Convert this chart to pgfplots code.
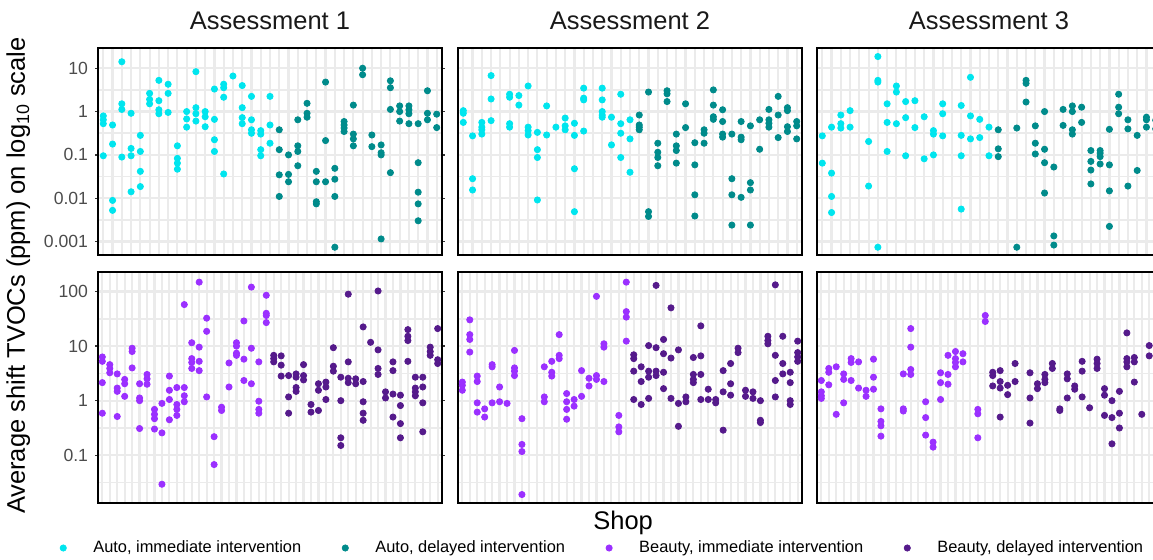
\documentclass[border=0pt]{standalone}
\usepackage{fontspec}
\setmainfont{Liberation Sans}
\usepackage{pgfplots}
\pgfplotsset{compat=1.18}
\definecolor{cA}{HTML}{00E5EE}
\definecolor{cB}{HTML}{008B8B}
\definecolor{cC}{HTML}{9B30FF}
\definecolor{cD}{HTML}{551A8B}
\pgfplotsset{
  every axis/.append style={
    scale only axis, width=171.7pt, anchor=north west,
    xmajorgrids, ymajorgrids, yminorgrids,
    major grid style={black!8, line width=1.1pt},
    minor grid style={black!8, line width=0.75pt},
    axis line style={line width=1.1pt, black},
    xticklabels={},
    tick align=outside,
    major tick length=1.6pt, minor tick length=0pt,
    xtick style={draw=none},
    ytick style={black!80, line width=0.6pt},
    tick label style={font=\fontsize{8.8}{10}\selectfont, text=black!70},
    title style={at={(0.5,1)}, anchor=base, yshift=3.2pt, font=\fontsize{12.75}{15}\selectfont, text=black!90},
  },
  every axis plot/.append style={only marks, mark=*, mark size=1.55pt, mark options={line width=0.4pt}},
}
\begin{document}
\begin{tikzpicture}
% ---------------- top row ----------------
\begin{axis}[ymode=log, height=103.35pt, xmin=0.46, xmax=37.54, xtick={1,...,37},
    ymin=0.00049, ymax=28.8, ytick={0.001,0.01,0.1,1,10},
    minor ytick={0.00316,0.0316,0.316,3.16},
  at={(49.15pt,-24.15pt)}, title={Assessment 1},
  yticklabels={0.001,0.01,0.1,1,10}]
\addplot[cA] coordinates {
(1,0.794)(1,0.646)(1,0.525)(1,0.0955)
(2,0.49)(2,0.178)(2,0.00891)(2,0.00525)
(3,14.1)(3,1.51)(3,1.12)(3,0.0891)
(4,0.912)(4,0.141)(4,0.0955)(4,0.0141)
(5,0.282)(5,0.12)(5,0.0417)(5,0.0186)
(6,2.63)(6,1.91)(6,1.51)
(7,5.25)(7,1.78)(7,1.1)(7,0.891)
(8,4.27)(8,2.63)(8,0.955)
(9,0.162)(9,0.0832)(9,0.0646)(9,0.0468)
(10,1.0)(10,0.676)(10,0.437)
(11,8.32)(11,1.23)(11,0.891)(11,0.603)
(12,1.0)(12,0.759)(12,0.447)
(13,3.31)(13,0.661)(13,0.224)(13,0.12)
(14,4.27)(14,3.55)(14,2.14)(14,0.0363)
(15,6.61)
(16,3.98)(16,1.23)(16,0.724)(16,0.525)
(17,2.24)(17,0.646)(17,0.38)(17,0.316)
(18,0.363)(18,0.302)(18,0.132)(18,0.0955)
(19,2.24)(19,0.49)(19,0.186)
};
\addplot[cB] coordinates {
(20,0.38)(20,0.132)(20,0.0347)(20,0.011)
(21,0.1)(21,0.0355)(21,0.024)
(22,0.646)(22,0.162)(22,0.12)(22,0.0562)
(23,1.55)(23,0.912)(23,0.741)
(24,0.0417)(24,0.024)(24,0.00832)(24,0.00741)
(25,4.79)(25,0.214)(25,0.024)
(26,0.049)(26,0.0275)(26,0.011)(26,0.000741)
(27,0.589)(27,0.49)(27,0.417)(27,0.347)
(28,1.41)(28,0.302)(28,0.234)(28,0.162)
(29,10)(29,7.08)
(30,0.288)(30,0.155)
(31,0.17)(31,0.112)(31,0.1)(31,0.00115)
(32,5.13)(32,3.55)(32,1.12)(32,0.0389)
(33,1.35)(33,1.0)(33,0.603)
(34,1.35)(34,1.1)(34,0.891)(34,0.525)
(35,0.525)(35,0.0661)(35,0.0138)(35,0.00741)(35,0.00302)
(36,3.02)(36,0.912)(36,0.646)
(37,0.871)(37,0.427)
};
\end{axis}
\begin{axis}[ymode=log, height=103.35pt, xmin=0.46, xmax=37.54, xtick={1,...,37},
    ymin=0.00049, ymax=28.8, ytick={0.001,0.01,0.1,1,10},
    minor ytick={0.00316,0.0316,0.316,3.16},
  yticklabels={}, major tick length=0pt,
  at={(229.15pt,-24.15pt)}, title={Assessment 2}]
\addplot[cA] coordinates {
(1,1.05)(1,0.912)(1,0.562)
(2,0.275)(2,0.0282)(2,0.0155)
(3,0.562)(3,0.437)(3,0.38)(3,0.302)
(4,6.76)(4,1.95)(4,0.617)
(6,2.51)(6,2.14)(6,0.525)(6,0.437)
(7,2.34)(7,1.41)
(8,3.89)(8,0.437)(8,0.363)(8,0.288)
(9,0.331)(9,0.132)(9,0.0871)(9,0.00912)
(10,1.35)(10,0.288)
(11,0.437)
(12,0.708)(12,0.468)(12,0.38)
(13,0.537)(13,0.282)(13,0.0479)(13,0.0049)
(14,3.47)(14,2.04)(14,1.86)(14,0.355)
(16,3.47)(16,1.86)(16,1.0)(16,0.832)(16,0.741)
(17,0.741)(17,0.17)
(18,2.51)(18,0.525)(18,0.316)(18,0.0871)
(19,0.646)(19,0.234)(19,0.0398)
};
\addplot[cB] coordinates {
(20,0.832)(20,0.49)(20,0.437)(20,0.38)
(21,2.82)(21,0.0049)(21,0.0038)
(22,0.186)(22,0.115)(22,0.0871)(22,0.0562)
(23,3.02)(23,2.57)(23,1.7)
(24,0.302)(24,0.162)(24,0.126)(24,0.0646)
(25,1.51)(25,0.427)
(26,0.191)(26,0.0589)(26,0.012)(26,0.00389)
(27,0.38)(27,0.316)(27,0.186)
(28,3.16)(28,1.41)(28,0.759)(28,0.661)
(29,1.1)(29,0.589)(29,0.302)(29,0.257)
(30,0.302)(30,0.0282)(30,0.012)(30,0.0024)
(31,0.589)(31,0.257)(31,0.224)(31,0.0105)
(32,0.468)(32,0.0229)(32,0.0155)(32,0.0024)
(33,0.646)(33,0.135)
(34,1.12)(34,0.646)(34,0.537)(34,0.437)
(35,2.24)(35,0.832)(35,0.251)
(36,1.23)(36,1.05)(36,0.447)(36,0.347)
(37,0.589)(37,0.468)(37,0.234)
};
\end{axis}
\begin{axis}[ymode=log, height=103.35pt, xmin=0.46, xmax=37.54, xtick={1,...,37},
    ymin=0.00049, ymax=28.8, ytick={0.001,0.01,0.1,1,10},
    minor ytick={0.00316,0.0316,0.316,3.16},
  yticklabels={}, major tick length=0pt,
  at={(408.65pt,-24.15pt)}, title={Assessment 3}]
\addplot[cA] coordinates {
(1,0.275)(1,0.0646)
(2,0.437)(2,0.038)(2,0.011)(2,0.00468)
(3,0.832)(3,0.525)(3,0.417)
(4,1.05)(4,0.437)
(6,0.204)(6,0.0191)
(7,18.6)(7,5.25)(7,4.79)(7,0.000741)
(8,1.51)(8,0.562)(8,0.12)
(9,3.89)(9,2.82)(9,0.525)
(10,1.7)(10,0.724)(10,0.0955)
(11,1.78)(11,0.427)
(12,0.759)(12,0.0813)
(13,0.363)(13,0.302)(13,0.1)
(14,1.51)(14,0.891)(14,0.275)
(16,1.38)(16,0.282)(16,0.0955)(16,0.00562)
(17,6.17)(17,0.794)(17,0.234)
(18,0.661)(18,0.251)
(19,0.437)(19,0.0955)
};
\addplot[cB] coordinates {
(20,0.38)(20,0.138)(20,0.0912)
(22,0.417)(22,0.000741)
(23,5.25)(23,4.47)(23,1.66)
(24,0.468)(24,0.186)(24,0.105)
(25,1.0)(25,0.135)(25,0.0661)(25,0.0132)
(26,0.0525)(26,0.00135)(26,0.000832)
(27,1.12)(27,0.479)
(28,1.35)(28,1.0)(28,0.38)(28,0.302)
(29,1.26)(29,0.562)
(30,0.126)(30,0.0708)(30,0.0447)(30,0.0214)
(31,0.126)(31,0.11)(31,0.0912)(31,0.0617)
(32,0.389)(32,0.0589)(32,0.0148)(32,0.00224)
(33,2.51)(33,1.26)(33,0.891)
(34,0.646)(34,0.398)(34,0.0191)
(35,0.282)(35,0.0437)
(36,0.741)(36,0.646)(36,0.437)
(37,0.631)(37,0.398)
};
\end{axis}
% ---------------- bottom row ----------------
\begin{axis}[ymode=log, height=115.5pt, xmin=0.46, xmax=46.54, xtick={1,...,46},
    ymin=0.0132, ymax=224, ytick={0.1,1,10,100},
    minor ytick={0.0316,0.316,3.16,31.6},
  at={(49.15pt,-136.15pt)},
  yticklabels={0.1,1,10,100},
  legend style={draw=none, fill=none, at={(-0.1297,-0.1935)}, anchor=west,
    legend columns=4, font=\fontsize{8.2}{10}\selectfont, text=black,
    /tikz/every odd column/.append style={column sep=11.5pt},
    /tikz/every even column/.append style={column sep=18.5pt}},
  legend image code/.code={\draw[#1] plot coordinates {(0pt,0pt)};}]
\addlegendimage{only marks, mark=*, cA}\addlegendentry{Auto, immediate intervention}
\addlegendimage{only marks, mark=*, cB}\addlegendentry{Auto, delayed intervention}
\addlegendimage{only marks, mark=*, cC}\addlegendentry{Beauty, immediate intervention}
\addlegendimage{only marks, mark=*, cD}\addlegendentry{Beauty, delayed intervention}
\addplot[cC, forget plot] coordinates {
(1,6.31)(1,5.25)(1,2.14)(1,0.589)
(2,4.57)(2,3.89)(2,3.24)
(3,3.09)(3,1.7)(3,1.48)(3,0.513)
(4,2.45)(4,2.04)(4,1.2)
(5,9.12)(5,7.94)(5,3.98)
(6,2.04)(6,1.12)(6,1.0)(6,0.309)
(7,3.02)(7,2.51)(7,2.0)
(8,0.692)(8,0.562)(8,0.468)(8,0.302)
(9,0.891)(9,0.257)(9,0.0295)
(10,2.82)(10,1.55)(10,1.05)(10,0.447)
(11,1.74)(11,0.851)(11,0.692)(11,0.537)
(12,57.5)(12,1.74)(12,1.23)(12,0.955)
(13,11.5)(13,5.89)(13,5.01)(13,3.89)
(14,148)(14,9.55)(14,5.25)(14,3.55)
(15,32.4)(15,18.6)(15,1.17)
(16,0.219)(16,0.0676)
(17,0.759)(17,0.661)
(18,4.9)(18,1.78)
(19,11.5)(19,10)(19,7.41)(19,6.76)
(20,28.8)(20,5.75)(20,2.34)
(21,120)(21,9.12)(21,2.04)
(22,5.13)(22,0.977)(22,0.692)(22,0.589)
(23,85.1)(23,39.8)(23,36.3)(23,26.9)
};
\addplot[cD, forget plot] coordinates {
(24,6.76)(24,5.89)(24,5.13)
(25,6.61)(25,4.47)(25,2.82)
(26,2.88)(26,1.17)(26,0.589)
(27,3.09)(27,2.69)(27,1.74)(27,1.48)
(28,4.57)(28,2.88)(28,2.4)
(29,0.851)(29,0.617)
(30,2.04)(30,1.55)(30,0.661)
(31,2.19)(31,1.78)(31,1.05)
(32,9.33)(32,4.27)(32,3.47)
(33,2.69)(33,1.0)(33,0.209)(33,0.151)
(34,89.1)(34,5.13)(34,2.57)(34,2.14)
(35,2.51)(35,2.04)
(36,22.4)(36,2.24)(36,0.955)(36,0.589)(36,0.437)
(37,11.7)
(38,102)(38,8.51)(38,3.89)(38,3.02)
(39,1.45)(39,1.12)
(40,5.13)(40,3.55)(40,1.32)(40,0.501)
(41,1.26)(41,0.813)(41,0.38)(41,0.209)
(42,20)(42,15.1)(42,12.6)(42,5.25)
(43,2.69)(43,1.7)(43,1.45)(43,1.23)
(44,2.69)(44,1.78)(44,0.912)(44,0.269)
(45,9.55)(45,7.94)(45,6.76)
(46,20.9)(46,5.62)(46,4.79)
};
\end{axis}
\begin{axis}[ymode=log, height=115.5pt, xmin=0.46, xmax=46.54, xtick={1,...,46},
    ymin=0.0132, ymax=224, ytick={0.1,1,10,100},
    minor ytick={0.0316,0.316,3.16,31.6},
  yticklabels={}, major tick length=0pt,
  at={(229.15pt,-136.15pt)},
  xlabel={Shop}, xlabel style={at={(0.48,0)}, anchor=base, yshift=-13pt,
    font=\fontsize{12.75}{15}\selectfont, text=black}]
\addplot[cC] coordinates {
(1,2.19)(1,1.91)(1,1.55)
(2,30.2)(2,16.2)(2,13.2)(2,7.76)
(3,2.82)(3,2.24)(3,0.912)(3,0.617)
(4,0.708)(4,0.501)
(5,4.57)(5,4.17)(5,0.912)
(6,1.78)(6,0.955)
(7,0.891)
(8,8.32)(8,3.98)(8,3.47)(8,2.88)
(9,0.468)(9,0.158)(9,0.117)(9,0.0191)
(12,4.17)(12,1.17)(12,0.955)
(13,5.25)(13,3.31)(13,2.82)
(14,16.2)(14,6.76)(14,5.89)
(15,1.35)(15,0.955)(15,0.692)(15,0.457)
(16,1.05)(16,0.794)
(17,3.55)(17,1.2)
(18,2.57)(18,1.86)
(19,81.3)(19,2.88)(19,2.45)
(20,11)(20,9.55)(20,2.24)
(22,0.537)(22,0.331)(22,0.269)
(23,148)(23,42.7)(23,33.9)(23,12.3)
};
\addplot[cD] coordinates {
(24,6.92)(24,5.89)(24,3.47)(24,1.05)
(25,4.17)(25,2.24)(25,0.851)
(26,10.2)(26,3.47)(26,2.69)(26,1.1)
(27,129)(27,9.33)(27,3.47)(27,2.88)
(28,13.2)(28,7.24)(28,3.31)(28,1.66)
(29,50.1)(29,6.03)(29,1.1)
(30,8.51)(30,0.891)(30,0.339)
(31,1.17)(31,0.955)
(32,6.17)(32,3.02)(32,2.45)(32,2.14)
(33,23.4)(33,6.61)(33,3.02)(33,1.05)
(34,1.62)(34,1.05)
(35,1.05)(35,0.912)
(36,3.55)(36,1.45)(36,0.288)
(37,4.79)(37,2.04)(37,1.26)
(38,9.12)(38,7.59)
(39,1.55)(39,1.2)
(40,1.45)(40,1.1)
(41,1.0)(41,0.437)(41,0.398)
(42,15.1)(42,12.6)(42,11)
(43,132)(43,6.76)(43,2.34)(43,1.17)
(44,15.1)(44,4.79)(44,3.09)
(45,3.31)(45,2.14)(45,1.0)(45,0.851)
(46,12.3)(46,7.59)(46,6.31)(46,5.25)
};
\end{axis}
\begin{axis}[ymode=log, height=115.5pt, xmin=0.46, xmax=46.54, xtick={1,...,46},
    ymin=0.0132, ymax=224, ytick={0.1,1,10,100},
    minor ytick={0.0316,0.316,3.16,31.6},
  yticklabels={}, major tick length=0pt,
  at={(408.65pt,-136.15pt)}]
\addplot[cC] coordinates {
(1,2.34)(1,1.45)(1,1.23)(1,1.1)
(2,3.89)(2,3.31)(2,1.95)
(3,4.17)(3,0.562)
(4,3.09)(4,2.45)(4,0.912)
(5,5.89)(5,5.01)(5,2.34)
(6,5.13)(6,1.7)
(7,1.55)(7,1.2)
(8,5.75)(8,2.69)(8,1.62)
(9,0.708)(9,0.417)(9,0.347)(9,0.224)
(12,3.09)(12,0.708)(12,0.646)
(13,20.9)(13,9.55)(13,3.72)(13,3.02)
(15,0.955)(15,0.49)(15,0.234)
(16,0.174)(16,0.141)
(17,3.24)(17,2.14)(17,1.05)
(18,6.76)(18,3.02)(18,2.0)
(19,7.94)(19,5.89)(19,5.01)(19,4.17)
(20,7.24)(20,5.13)
(22,0.692)(22,0.575)(22,0.209)
(23,36.3)(23,28.2)
};
\addplot[cD] coordinates {
(24,3.31)(24,2.88)(24,1.86)
(25,3.55)(25,2.24)(25,1.7)(25,0.501)
(26,1.91)(26,1.29)
(27,4.79)(27,2.24)
(29,3.24)(29,1.12)(29,0.389)
(30,2.04)(30,1.66)
(31,3.02)(31,2.45)(31,2.14)
(32,4.79)(32,3.89)
(33,0.708)(33,0.661)
(34,3.09)(34,2.51)(34,1.12)
(35,1.86)(35,1.62)
(36,5.25)(36,3.47)(36,1.17)
(37,0.741)
(38,5.75)(38,4.79)(38,3.89)
(39,1.66)(39,1.26)(39,0.537)
(40,1.0)(40,0.49)(40,0.162)
(41,1.48)(41,0.589)(41,0.316)
(42,17.4)(42,5.89)(42,5.13)(42,4.17)
(43,6.17)(43,5.13)(43,2.19)
(44,0.562)
(45,10.2)(45,6.61)
(46,10)
};
\end{axis}
\node[rotate=90, anchor=base, font=\fontsize{12.75}{15}\selectfont] at (12.5pt,-137.8pt)
  {Average shift TVOCs (ppm) on log\textsubscript{10} scale};
\pgfresetboundingbox
\path[use as bounding box] (0pt,0pt) rectangle (576.5pt,-279.5pt);
\end{tikzpicture}
\end{document}
